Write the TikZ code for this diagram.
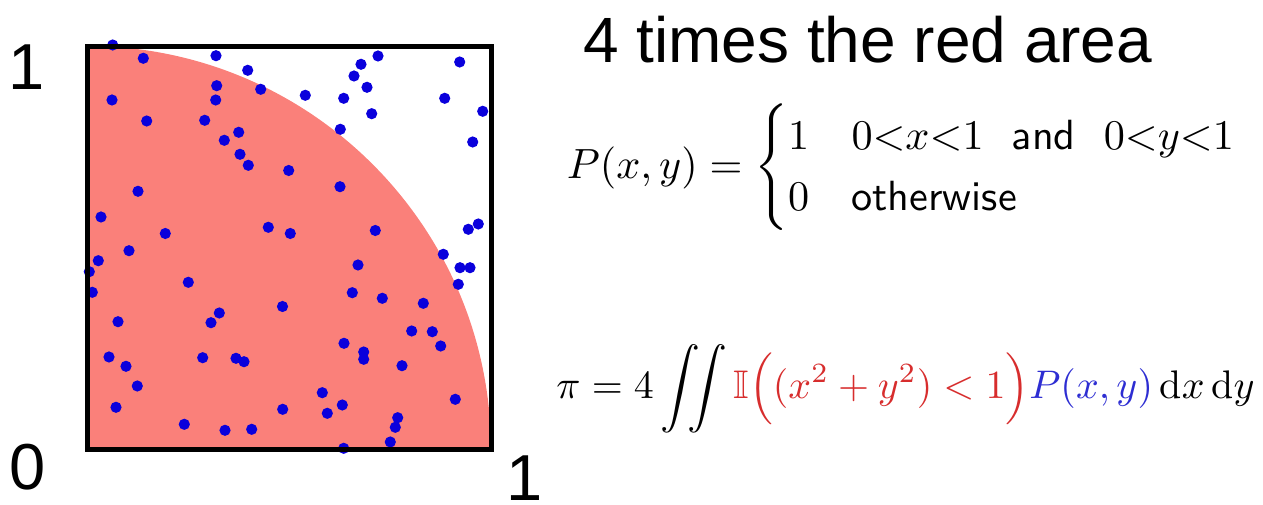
\documentclass[tikz,border=0pt]{standalone}
\usepackage{amsmath,amssymb}
\usepackage{fontspec}
\usepackage{graphicx}
\newfontfamily\arialfont{Liberation Sans}
\definecolor{areared}{RGB}{250,128,122}
\definecolor{dotblue}{RGB}{10,0,220}
\definecolor{fred}{RGB}{215,45,45}
\definecolor{fblue}{RGB}{45,45,210}
\tikzset{
  bigtext/.style={font=\arialfont\fontsize{65}{70}\selectfont, inner sep=0pt, outer sep=0pt, text depth=0pt},
  mcdot/.style={fill=dotblue},
  formula/.style={inner sep=0pt, outer sep=0pt}
}
\begin{document}
\begin{tikzpicture}[x=1pt,y=1pt]
\useasboundingbox (0,0) rectangle (1263,505);
% red quarter disc
\fill[areared] (87,55) -- (491,55) arc[start angle=0,end angle=90,radius=404] -- cycle;
% random points (image coordinates, y measured downwards)
\foreach \px/\py in {112.7/45,143.3/58.3,216/55.7,247.7/70.3,216.7/85.7,260.7/89.3,112/100,215.7/100,146.7/121,204.7/120.3,238.7/132.3,224.3/140.3,240/154.3,248.3/165.3,288.7/170.5,138/191.3,101/217,165.3/233.5,268.3/227.3,290.3/233.5,
378/56,361/64.3,354/76,367/87.3,305.3/95.3,343.7/98.3,459.7/62,444.7/98.3,482.7/111.3,371.7/113.7,340.3/129.3,472.7/142,340/186.7,375.3/230.5,468.3/229.3,478.3/224,
129/250.7,98.3/260.7,89.3/271.7,92.3/292.3,188.3/282.3,282.5/306.5,118/321.7,219.3/313,211/322.7,109/357,126/366.3,202.7/357.7,236/358.3,244/361.7,137.3/386,116/407.3,282.7/409.3,184.3/424.3,225/430.3,251.7/429.3,
443.3/254.3,460/267.7,470/267.7,458.3/284.3,358/265,352.3/292.7,382.3/298.3,423.3/303.3,411.7/331,432.3/331.7,440.7/346,344/343.3,363.7/352,363.7/359.3,402/365.7,322.3/392.7,342.3/405,327.3/413.3,455.3/399.3,397.7/417.7,395.3/427.3,390.3/442,343.7/448.3}
  \fill[mcdot] (\px,{505-\py}) circle[radius=5.6];
% square frame
\draw[line width=5pt] (87,55) rectangle (491,458);
% axis labels
\node[bigtext, anchor=base] (ytop) at (27,415) {1};
\node[bigtext, anchor=base] (orig) at (27.5,15) {0};
\node[bigtext, anchor=base] (xright) at (525,4) {1};
% title
\node[bigtext, font=\arialfont\fontsize{64}{70}\selectfont, anchor=base west] (title) at (583,442) {4 times the red area};
% formulas
\node[formula] (pdf) at (903,337.5) {\resizebox{672pt}{!}{$P(x,y)=\begin{cases}1 & 0{<}x{<}1\ \ \textsf{and}\ \ 0{<}y{<}1\\ 0 & \textsf{otherwise}\end{cases}$}};
\node[formula] (integral) at (905.5,116) {\resizebox{698pt}{!}{$\displaystyle \pi=4\iint \textcolor{fred}{\mathbb{I}\Big((x^2+y^2)<1\Big)}\textcolor{fblue}{P(x,y)}\,\mathrm{d}x\,\mathrm{d}y$}};
\end{tikzpicture}
\end{document}
